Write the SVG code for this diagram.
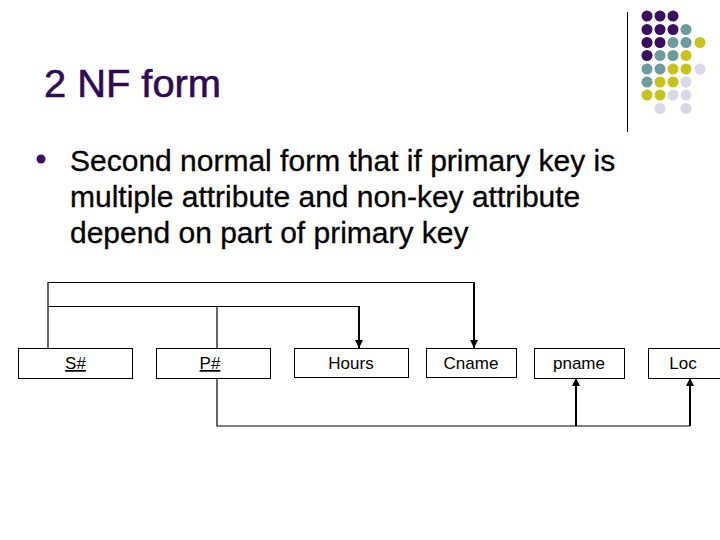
<svg xmlns="http://www.w3.org/2000/svg" width="720" height="540" viewBox="0 0 720 540">
<style>
.title{font-family:"Liberation Sans",Arial,sans-serif;font-size:39px;fill:#2E0A57;stroke:#2E0A57;stroke-width:0.6}
.body{font-family:"Liberation Sans",Arial,sans-serif;font-size:30px;fill:#000;stroke:#000;stroke-width:0.3}
.lbl{font-family:"Liberation Sans",Arial,sans-serif;font-size:17px;fill:#000;text-anchor:middle}
.box{fill:#fff;stroke:#000;stroke-width:1}
.thin{fill:none;stroke:#000;stroke-width:1.2}
.arr{fill:none;stroke:#000;stroke-width:2;marker-end:url(#ah)}
.p{fill:#3A0F63}.t{fill:#6E9B9C}.y{fill:#C9C21C}.l{fill:#D8D8E8}
</style>
<defs>
<marker id="ah" viewBox="0 0 10 10" refX="10" refY="5" markerWidth="4" markerHeight="4" orient="auto" markerUnits="strokeWidth">
<path d="M0,0 L10,5 L0,10 z" fill="#000"/>
</marker>
</defs>
<rect width="720" height="540" fill="#fff"/>
<g id="decoration">
<line x1="627.5" y1="12" x2="627.5" y2="132" stroke="#000" stroke-width="1"/>
<g>
<circle class="p" cx="647" cy="16" r="5.5"/><circle class="p" cx="660" cy="16" r="5.5"/><circle class="p" cx="673" cy="16" r="5.5"/>
<circle class="p" cx="647" cy="29.5" r="5.5"/><circle class="p" cx="660" cy="29.5" r="5.5"/><circle class="p" cx="673" cy="29.5" r="5.5"/><circle class="t" cx="686" cy="29.5" r="5.5"/>
<circle class="p" cx="647" cy="42.5" r="5.5"/><circle class="p" cx="660" cy="42.5" r="5.5"/><circle class="t" cx="673" cy="42.5" r="5.5"/><circle class="t" cx="686" cy="42.5" r="5.5"/><circle class="y" cx="700" cy="42.5" r="5.5"/>
<circle class="p" cx="647" cy="55.5" r="5.5"/><circle class="t" cx="660" cy="55.5" r="5.5"/><circle class="t" cx="673" cy="55.5" r="5.5"/><circle class="y" cx="686" cy="55.5" r="5.5"/>
<circle class="t" cx="647" cy="69" r="5.5"/><circle class="t" cx="660" cy="69" r="5.5"/><circle class="y" cx="673" cy="69" r="5.5"/><circle class="y" cx="686" cy="69" r="5.5"/><circle class="l" cx="700" cy="69" r="5.5"/>
<circle class="t" cx="647" cy="82" r="5.5"/><circle class="y" cx="660" cy="82" r="5.5"/><circle class="y" cx="673" cy="82" r="5.5"/><circle class="l" cx="686" cy="82" r="5.5"/>
<circle class="y" cx="647" cy="95" r="5.5"/><circle class="y" cx="660" cy="95" r="5.5"/><circle class="l" cx="673" cy="95" r="5.5"/><circle class="l" cx="686" cy="95" r="5.5"/>
<circle class="l" cx="660" cy="108.5" r="5.5"/><circle class="l" cx="686" cy="108.5" r="5.5"/>
</g>
</g>
<g id="title"><text class="title" x="44" y="97" textLength="177" lengthAdjust="spacingAndGlyphs">2 NF form</text></g>
<g id="bullet">
<circle cx="41" cy="159" r="4.5" fill="#3A0F63"/>
<text class="body" x="70" y="171">Second normal form that if primary key is</text>
<text class="body" x="70" y="207">multiple attribute and non-key attribute</text>
<text class="body" x="70" y="243">depend on part of primary key</text>
</g>
<g id="connectors">
<polyline class="thin" points="48,348 48,282.5 474,282.5"/>
<line class="arr" x1="474" y1="282" x2="474" y2="348"/>
<polyline class="thin" points="48,306.5 359,306.5"/>
<line class="thin" x1="217" y1="306" x2="217" y2="348"/>
<line class="arr" x1="359" y1="306" x2="359" y2="348"/>
<polyline class="thin" points="217,378 217,426 690,426"/>
<line class="arr" x1="576" y1="426" x2="576" y2="378"/>
<line class="arr" x1="690" y1="426" x2="690" y2="378"/>
</g>
<g id="node-s"><rect class="box" x="18.5" y="348.5" width="114" height="30"/><text class="lbl" x="75.5" y="369" text-decoration="underline">S#</text></g>
<g id="node-p"><rect class="box" x="156.5" y="348.5" width="114" height="30"/><text class="lbl" x="210" y="369" text-decoration="underline">P#</text></g>
<g id="node-hours"><rect class="box" x="294.5" y="348.5" width="114" height="29"/><text class="lbl" x="351" y="369">Hours</text></g>
<g id="node-cname"><rect class="box" x="426.5" y="348.5" width="90" height="29"/><text class="lbl" x="471" y="369">Cname</text></g>
<g id="node-pname"><rect class="box" x="534.5" y="348.5" width="90" height="30"/><text class="lbl" x="579" y="369">pname</text></g>
<g id="node-loc"><rect class="box" x="648.5" y="348.5" width="90" height="30"/><text class="lbl" x="683" y="369">Loc</text></g>
</svg>
